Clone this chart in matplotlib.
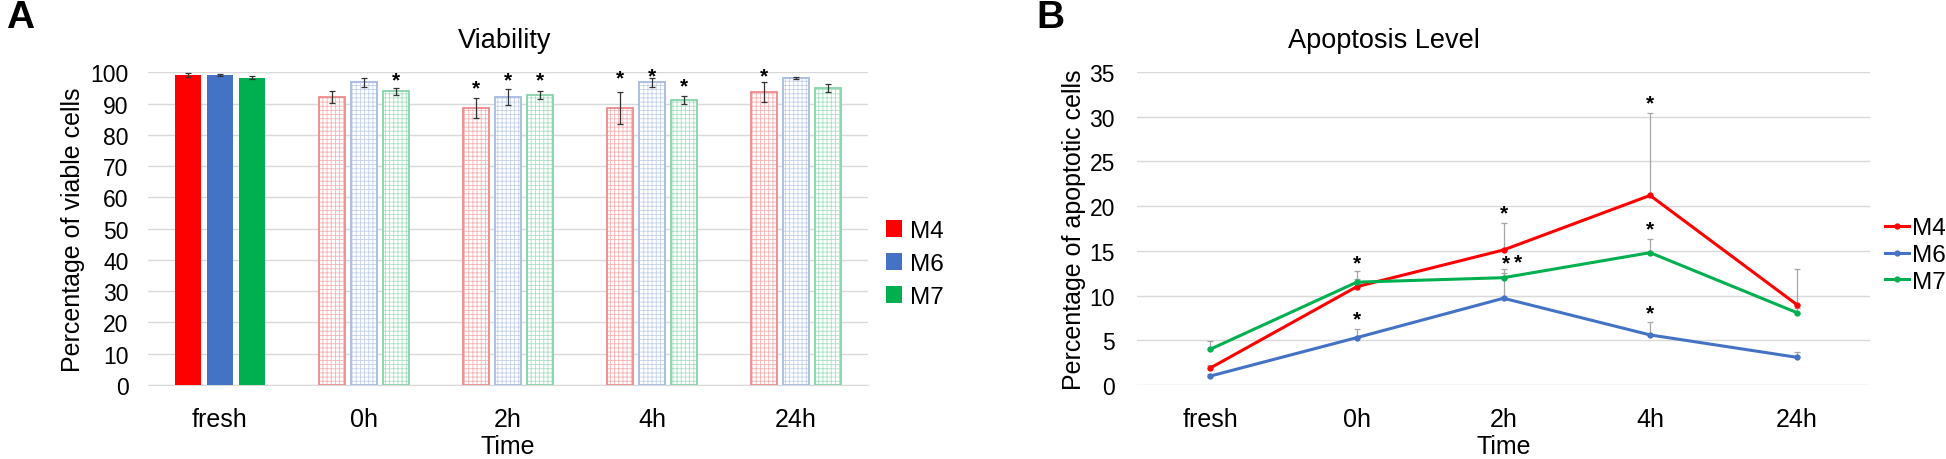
import matplotlib
matplotlib.use("Agg")
import matplotlib.pyplot as plt
import numpy as np
from matplotlib.patches import Patch
from matplotlib.lines import Line2D

plt.rcParams['font.family'] = ['Liberation Sans', 'DejaVu Sans']
plt.rcParams['hatch.linewidth'] = 0.6

categories = ['fresh', '0h', '2h', '4h', '24h']
series = ['M4', 'M6', 'M7']

# Panel A: viability (%)
viab_M4 = [99.2, 92.2, 88.6, 88.7, 93.8]
viab_M6 = [99.1, 96.8, 92.2, 96.8, 98.2]
viab_M7 = [98.3, 93.9, 92.7, 91.1, 94.9]
viab_err_M4 = [0.7, 1.9, 3.1, 5.1, 3.2]
viab_err_M6 = [0.3, 1.4, 2.6, 1.5, 0.4]
viab_err_M7 = [0.4, 1.0, 1.3, 1.2, 1.3]
viab_star_M4 = [None, None, 95.0, 98.2, 99.0]
viab_star_M6 = [None, None, 97.6, 98.8, None]
viab_star_M7 = [None, 97.6, 97.6, 95.8, None]

# Panel B: apoptosis (%)
apo_M4 = [1.9, 11.0, 15.1, 21.2, 9.0]
apo_M6 = [1.0, 5.3, 9.7, 5.6, 3.1]
apo_M7 = [4.0, 11.5, 12.0, 14.8, 8.1]
apo_err_M4 = [0.3, 0.8, 3.0, 9.2, 4.0]
apo_err_M6 = [0.2, 1.0, 2.8, 1.5, 0.6]
apo_err_M7 = [0.9, 1.3, 1.0, 1.5, 0.5]
apo_star_x = [1.0, 1.0, 2.0, 2.02, 2.1, 3.0, 3.0, 3.0]
apo_star_y = [13.7, 7.4, 19.3, 13.7, 13.8, 31.6, 17.5, 8.1]

solid = {'M4': '#FF0000', 'M6': '#4472C4', 'M7': '#00B050'}
hatch_c = {'M4': '#F6B3B3', 'M6': '#C3D1EC', 'M7': '#A8E2C4'}
edge_c = {'M4': '#EE8A8A', 'M6': '#A8BCE2', 'M7': '#86D3AA'}

fig = plt.figure(figsize=(19.46, 4.6), dpi=100)
W, H = 1946, 460

def add_ax(x0, x1, y_top, y_bot):
    return fig.add_axes([x0 / W, 1 - y_bot / H, (x1 - x0) / W, (y_bot - y_top) / H])

grid_c = '#D9D9D9'
ytick_fs = 16.5
xtick_fs = 18
lab_fs = 18
title_fs = 19.5
leg_fs = 17.5

# ---------- Panel A ----------
axA = add_ax(148, 868, 73.3, 386)
x = np.arange(len(categories))
vals = {'M4': viab_M4, 'M6': viab_M6, 'M7': viab_M7}
errs = {'M4': viab_err_M4, 'M6': viab_err_M6, 'M7': viab_err_M7}
stars = {'M4': viab_star_M4, 'M6': viab_star_M6, 'M7': viab_star_M7}
offs = {'M4': -0.222, 'M6': 0.0, 'M7': 0.222}
bw = 0.18
for s in series:
    xs = x + offs[s]
    v = np.array(vals[s])
    axA.bar(xs[:1], v[:1], width=bw, color=solid[s], zorder=3, label=s)
    axA.bar(xs[1:], v[1:], width=bw, facecolor='white', edgecolor=hatch_c[s],
            hatch='++++', linewidth=0, zorder=3)
    axA.bar(xs[1:], v[1:], width=bw, fill=False, edgecolor=edge_c[s],
            linewidth=1.3, zorder=4)
    axA.errorbar(xs, v, yerr=errs[s], fmt='none', ecolor='#333333',
                 elinewidth=0.9, capsize=2.5, capthick=0.9, zorder=5)
    for i, sy in enumerate(stars[s]):
        if sy is not None:
            axA.text(xs[i], sy, '*', ha='center', va='center', fontsize=15,
                     fontweight='bold', zorder=6)

axA.set_xlim(-0.5, len(categories) - 0.5)
axA.set_ylim(0, 100)
axA.set_yticks(np.arange(0, 101, 10))
axA.set_xticks(x)
axA.set_xticklabels(categories)
axA.grid(axis='y', color=grid_c, linewidth=1, zorder=0)
axA.set_axisbelow(True)
for sp in ['top', 'right', 'left']:
    axA.spines[sp].set_visible(False)
axA.spines['bottom'].set_color(grid_c)
axA.tick_params(axis='both', length=0)
axA.tick_params(axis='y', pad=14, labelsize=ytick_fs)
axA.tick_params(axis='x', pad=16, labelsize=xtick_fs)
axA.set_ylabel('Percentage of viable cells', fontsize=lab_fs, labelpad=4)
axA.set_xlabel('Time', fontsize=lab_fs, labelpad=2)
fig.text(505 / W, 1 - 41 / H, 'Viability', ha='center', va='center', fontsize=title_fs)
axA.legend(handles=[Patch(facecolor=solid[s], label=s) for s in series],
           loc='center left', bbox_to_anchor=(886 / W, 1 - 265 / H),
           bbox_transform=fig.transFigure, frameon=False, fontsize=leg_fs,
           handlelength=0.65, handleheight=0.65, handletextpad=0.35,
           labelspacing=0.45, borderpad=0, borderaxespad=0)

# ---------- Panel B ----------
axB = add_ax(1137, 1870, 73, 386)
apo = {'M4': apo_M4, 'M6': apo_M6, 'M7': apo_M7}
apo_err = {'M4': apo_err_M4, 'M6': apo_err_M6, 'M7': apo_err_M7}
for s in series:
    v = np.array(apo[s])
    e = np.array(apo_err[s])
    axB.errorbar(x, v, yerr=[np.zeros_like(e), e], fmt='none', ecolor='#A6A6A6',
                 elinewidth=0.9, capsize=2, capthick=0.9, zorder=2)
for s in series:
    axB.plot(x, apo[s], color=solid[s], linewidth=2.2, marker='o', markersize=3.5,
             zorder=3, label=s)
for sx, sy in zip(apo_star_x, apo_star_y):
    axB.text(sx, sy, '*', ha='center', va='center', fontsize=15,
             fontweight='bold', zorder=6)
axB.set_xlim(-0.5, len(categories) - 0.5)
axB.set_ylim(0, 35)
axB.set_yticks(np.arange(0, 36, 5))
axB.set_xticks(x)
axB.set_xticklabels(categories)
axB.grid(axis='y', color=grid_c, linewidth=1, zorder=0)
axB.set_axisbelow(True)
for sp in ['top', 'right', 'left', 'bottom']:
    axB.spines[sp].set_visible(False)
axB.tick_params(axis='both', length=0)
axB.tick_params(axis='y', pad=16, labelsize=ytick_fs)
axB.tick_params(axis='x', pad=16, labelsize=xtick_fs)
axB.set_ylabel('Percentage of apoptotic cells', fontsize=lab_fs, labelpad=2)
axB.set_xlabel('Time', fontsize=lab_fs, labelpad=2)
fig.text(1384 / W, 1 - 41 / H, 'Apoptosis Level', ha='center', va='center', fontsize=title_fs)
axB.legend(handles=[Line2D([], [], color=solid[s], linewidth=2.2, marker='o',
                           markersize=3.5, label=s) for s in series],
           loc='center left', bbox_to_anchor=(1885 / W, 1 - 256 / H),
           bbox_transform=fig.transFigure, frameon=False, fontsize=leg_fs,
           handlelength=1.0, handletextpad=0.1, labelspacing=0.2,
           borderpad=0, borderaxespad=0)

fig.text(6 / W, 1 - 18 / H, 'A', ha='left', va='center', fontsize=28, fontweight='bold')
fig.text(1036 / W, 1 - 18 / H, 'B', ha='left', va='center', fontsize=28, fontweight='bold')

fig.savefig('out.png', dpi=100)
